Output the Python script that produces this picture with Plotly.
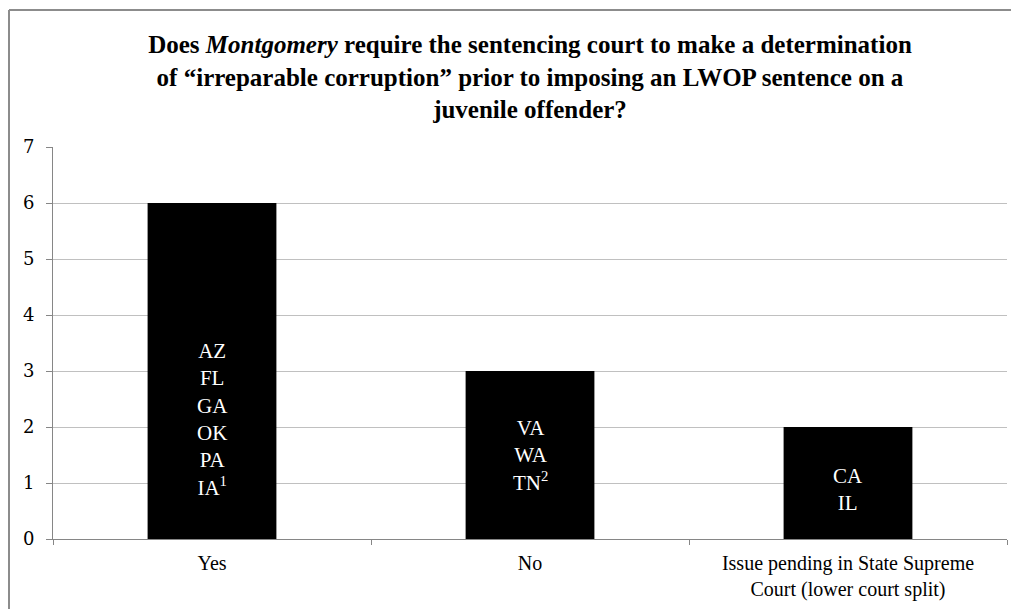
import plotly.graph_objects as go

categories = ["Yes", "No", "Issue pending in State Supreme<br>Court (lower court split)"]
counts = [6, 3, 2]
state_labels = [
    "AZ<br>FL<br>GA<br>OK<br>PA<br>IA<sup>1</sup>",
    "VA<br>WA<br>TN<sup>2</sup>",
    "CA<br>IL",
]
y_ticks = [0, 1, 2, 3, 4, 5, 6, 7]

label_shift_px = [-48, 0, -6]

OFF = 8  # page body margin
W, H = 1019 - OFF, 609 - OFF
ml, mt = 53 - OFF, 147 - OFF
mr = W - (1007 - OFF)
mb = H - (539 - OFF)

fig = go.Figure()
fig.add_trace(go.Bar(
    x=categories, y=counts,
    marker=dict(color="#000000", line=dict(color="#000000", width=0)),
    width=0.405,
    hoverinfo="skip",
))

for cat, val, lab, sh in zip(categories, counts, state_labels, label_shift_px):
    fig.add_annotation(
        x=cat, y=val / 2, xref="x", yref="y",
        text=lab, showarrow=False, yshift=sh,
        font=dict(family="Liberation Serif", size=21, color="#ffffff"),
        align="center", yanchor="middle",
    )

# outer frame: top and left edges (page coords -> figure coords)
pw = W - ml - mr
ph = H - mt - mb
fx = (8 + 1 - OFF - ml) / pw
fy = (H - mb - (9 + 1 - OFF)) / ph
border = dict(color="#8c8c8c", width=2)
fig.add_shape(type="line", xref="paper", yref="paper",
              x0=fx, x1=(W - ml) / pw, y0=fy, y1=fy, line=border, layer="above")
fig.add_shape(type="line", xref="paper", yref="paper",
              x0=fx, x1=fx, y0=fy, y1=-mb / ph, line=border, layer="above")

fig.update_layout(
    width=W, height=H,
    margin=dict(l=ml, r=mr, t=mt, b=mb, autoexpand=False),
    paper_bgcolor="#ffffff", plot_bgcolor="#ffffff",
    showlegend=False,
    title=dict(
        text="<b>Does <i>Montgomery</i> require the sentencing court to make a determination<br>"
             "of \u201cirreparable corruption\u201d prior to imposing an LWOP sentence on a<br>"
             "juvenile offender?</b>",
        x=0.5, xref="paper", xanchor="center",
        y=1 - 45 / H, yref="container", yanchor="top",
        font=dict(family="Liberation Serif", size=25, color="#000000"),
    ),
    xaxis=dict(
        automargin=False,
        showline=True, linecolor="#868686", linewidth=1,
        ticks="outside", ticklen=5, tickcolor="#868686",
        tickson="boundaries",
        showgrid=False,
        tickfont=dict(family="Liberation Serif", size=20, color="#000000"),
        ticklabelstandoff=6,
        fixedrange=True,
    ),
    yaxis=dict(
        automargin=False,
        range=[0, 7], tickvals=y_ticks,
        showline=True, linecolor="#868686", linewidth=1,
        ticks="outside", ticklen=6, tickcolor="#868686",
        showgrid=True, gridcolor="#c0c0c0", gridwidth=1,
        zeroline=False,
        tickfont=dict(family="DejaVu Serif", size=18, color="#000000"),
        ticklabelstandoff=8,
        fixedrange=True,
    ),
)

fig.write_html("out.html")
